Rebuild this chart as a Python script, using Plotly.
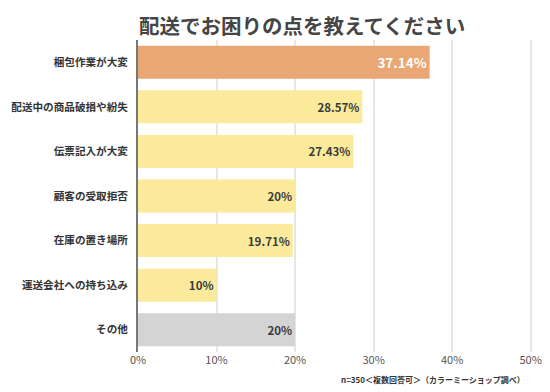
import plotly.graph_objects as go

categories = ["梱包作業が大変", "配送中の商品破損や紛失", "伝票記入が大変", "顧客の受取拒否",
              "在庫の置き場所", "運送会社への持ち込み", "その他"]
values = [37.14, 28.57, 27.43, 20, 19.71, 10, 20]
labels = ["37.14%", "28.57%", "27.43%", "20%", "19.71%", "10%", "20%"]
colors = ["#E9A775", "#FBEA9B", "#FBEA9B", "#FBEA9B", "#FBEA9B", "#FBEA9B", "#D4D4D4"]
text_colors = ["#FFFFFF", "#3A3A3A", "#3A3A3A", "#3A3A3A", "#3A3A3A", "#3A3A3A", "#3A3A3A"]
text_sizes = [13.5, 11.5, 11.5, 11.5, 11.5, 11.5, 11.5]
tick_vals = [0, 10, 20, 30, 40, 50]
tick_text = ["0%", "10%", "20%", "30%", "40%", "50%"]
title_text = "配送でお困りの点を教えてください"
note_text = "n=350＜複数回答可＞（カラーミーショップ調べ）"

FONT = "Noto Sans CJK JP"

# page body has an 8px default margin; figure is sized to fit the 550x392 window
OFF = 8
W, H = 550 - OFF, 392 - OFF
L, R, T, B = 138 - OFF, 17, 40 - OFF, 40
pw = W - L - R
ph = H - T - B

fig = go.Figure(go.Bar(
    x=values, y=categories, orientation="h",
    marker=dict(color=colors, line=dict(width=0)),
    text=labels, textposition="inside", insidetextanchor="end",
    textfont=dict(family=FONT, color=text_colors, size=text_sizes, weight="bold"),
    hoverinfo="skip",
))

fig.update_layout(
    width=W, height=H,
    margin=dict(l=L, r=R, t=T, b=B, pad=0, autoexpand=False),
    paper_bgcolor="white", plot_bgcolor="white",
    bargap=0.26,
    showlegend=False,
    xaxis=dict(range=[0, 50.3], tickvals=tick_vals, ticktext=tick_text,
               showgrid=True, gridcolor="#E6E6E6", gridwidth=1.5, zeroline=False,
               tickfont=dict(family=FONT, size=11, color="#555555"), ticks="",
               showline=False, fixedrange=True, automargin=False),
    yaxis=dict(autorange="reversed", tickfont=dict(family=FONT, size=10.6, color="#333333", weight="bold"),
               ticks="", ticklabelstandoff=6, showline=True, linecolor="#777777", linewidth=2,
               showgrid=False, fixedrange=True, automargin=False),
    annotations=[
        dict(text=title_text,
             x=(302 - 138) / pw, xanchor="center",
             y=1 + (T - 1) / ph, yanchor="top",
             xref="paper", yref="paper", showarrow=False, borderpad=0,
             font=dict(family=FONT, size=20.5, color="#454545", weight="bold")),
        dict(text=note_text,
             x=(527 - 138) / pw, xanchor="right",
             y=(352 - 380) / ph, yanchor="middle",
             xref="paper", yref="paper", showarrow=False,
             font=dict(family=FONT, size=8, color="#333333", weight="bold")),
    ],
)

fig.write_html("out.html")
